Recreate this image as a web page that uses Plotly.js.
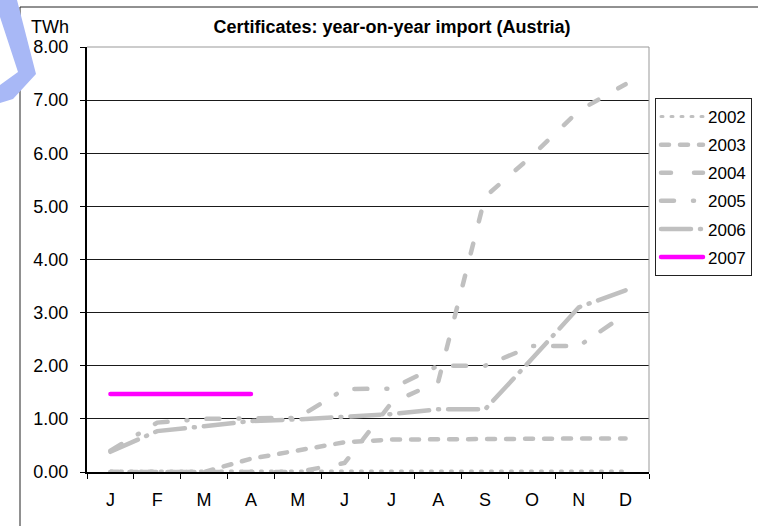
<!DOCTYPE html>
<html><head><meta charset="utf-8">
<script src="https://cdn.plot.ly/plotly-3.0.1.min.js"></script>
<style>
html,body{margin:0;padding:0;background:#fff;}
#chart{width:758px;height:526px;}
.js-line{stroke-linecap:round;}
</style></head><body><div id="chart"></div>
<script>
// ---- data ----
const monthKeys = ['Jan','Feb','Mar','Apr','May','Jun','Jul','Aug','Sep','Oct','Nov','Dec'];
const monthLabels = ['J','F','M','A','M','J','J','A','S','O','N','D'];
const years = ['2002','2003','2004','2005','2006','2007'];
const y2002 = [0.02,0.02,0.02,0.02,0.02,0.02,0.02,0.02,0.02,0.02,0.02,0.02];
const y2003 = [0.00,0.00,0.00,0.25,0.41,0.56,0.61,0.62,0.63,0.63,0.63,0.63];
const y2004 = [0.00,0.00,0.00,0.00,0.00,0.17,1.30,1.70,5.18,5.95,6.80,7.30];
const y2005 = [0.40,0.93,1.00,1.00,1.02,1.56,1.57,2.00,2.00,2.37,2.37,2.97];
const y2006 = [0.38,0.77,0.86,0.96,0.99,1.05,1.09,1.18,1.18,2.13,3.10,3.42];
const y2007 = [1.47,1.47,1.47,1.47];
const yTickVals = [0,1,2,3,4,5,6,7,8];

// ---- layout helpers (pixel -> paper) ----
const L = 87, R = 649, T = 47, B = 472, W = 758, H = 526;
const px = x => (x - L) / (R - L);
const py = y => (B - y) / (B - T);

const gray = '#C0C0C0';
const styles = {
  '2002': {color: gray, width: 3, dash: '2px,8px'},
  '2003': {color: gray, width: 4.5, dash: '8px,11px'},
  '2004': {color: gray, width: 4.5, dash: '10px,23px'},
  '2005': {color: gray, width: 4.5, dash: '13px,19px,1px,19px'},
  '2006': {color: gray, width: 4.5, dash: '30px,9px,1px,9px'},
  '2007': {color: '#FF00FF', width: 4.5, dash: 'solid'}
};
const series = [y2002, y2003, y2004, y2005, y2006, y2007];

const traces = years.map((yr, i) => ({
  type: 'scatter', mode: 'lines', name: yr,
  x: monthKeys.slice(0, series[i].length), y: series[i],
  line: styles[yr], legendgroup: yr, hoverinfo: 'skip'
}));

const blue = [[0,0],[17,0],[36,74],[13,99],[0,103],[0,85],[18,72],[0,17]];
const bluePath = 'M' + blue.map(p => px(p[0]) + ',' + py(p[1])).join(' L') + ' Z';

const font = 'Liberation Sans, Arial, sans-serif';
const layout = {
  width: W, height: H,
  margin: {l: L, r: W - R, t: T, b: H - B, pad: 0, autoexpand: false},
  paper_bgcolor: '#fff', plot_bgcolor: '#fff',
  font: {family: font, size: 18, color: '#000'},
  showlegend: true,
  title: {text: '<b>Certificates: year-on-year import (Austria)</b>',
          font: {family: font, size: 18, color: '#000'},
          x: 392 / W, xref: 'container', xanchor: 'center',
          y: 1 - 27 / H, yref: 'container', yanchor: 'middle'},
  xaxis: {type: 'category', categoryorder: 'array', categoryarray: monthKeys,
          tickmode: 'array', tickvals: monthKeys, ticktext: monthLabels,
          tickson: 'boundaries', ticks: 'outside', ticklen: 5, tickwidth: 1, tickcolor: '#000',
          showline: true, linecolor: '#000', linewidth: 2, showgrid: false, zeroline: false,
          range: [-0.5, 11.5], fixedrange: true, ticklabelstandoff: 10, automargin: false,
          tickfont: {family: font, size: 18, color: '#000'}},
  yaxis: {range: [0, 8], tickmode: 'array', tickvals: yTickVals, tickformat: '.2f',
          ticks: 'outside', ticklen: 5, tickwidth: 1, tickcolor: '#000',
          showline: true, linecolor: '#000', linewidth: 2,
          showgrid: true, gridcolor: '#1a1a1a', gridwidth: 1, zeroline: false,
          fixedrange: true, ticklabelstandoff: 8, automargin: false,
          tickfont: {family: font, size: 18, color: '#000'}},
  legend: {x: px(655), y: py(98), xanchor: 'left', yanchor: 'top',
           bgcolor: '#fff', bordercolor: '#222', borderwidth: 1,
           font: {family: font, size: 17, color: '#000'},
           traceorder: 'grouped', tracegroupgap: 3, itemwidth: 42},
  annotations: [{text: 'TWh', xref: 'paper', yref: 'paper', x: px(29), y: py(27),
                 xanchor: 'left', yanchor: 'middle', showarrow: false,
                 font: {family: font, size: 18, color: '#000'}}],
  shapes: [
    {type: 'rect', xref: 'paper', yref: 'paper', x0: px(20), x1: px(800), y0: py(560), y1: py(7),
     line: {color: '#222', width: 1}, fillcolor: 'rgba(0,0,0,0)', layer: 'below'},
    {type: 'line', xref: 'paper', yref: 'paper', x0: 0, x1: 1, y0: 1, y1: 1,
     line: {color: '#999', width: 1}, layer: 'above'},
    {type: 'line', xref: 'paper', yref: 'paper', x0: 1, x1: 1, y0: 0, y1: 1,
     line: {color: '#999', width: 1}, layer: 'above'},
    {type: 'path', xref: 'paper', yref: 'paper', path: bluePath,
     fillcolor: '#A8B8F6', line: {width: 0}, layer: 'above'}
  ]
};

Plotly.newPlot('chart', traces, layout, {staticPlot: true, displayModeBar: false});
</script></body></html>
